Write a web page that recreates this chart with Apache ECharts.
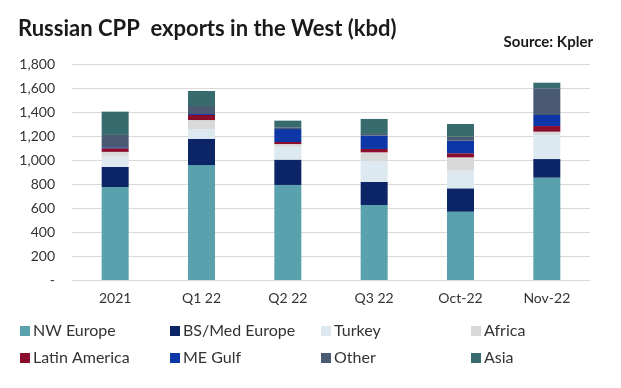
<!DOCTYPE html>
<html>
<head>
<meta charset="utf-8">
<script src="https://cdn.jsdelivr.net/npm/echarts@6/dist/echarts.min.js"></script>
<style>html,body{margin:0;padding:0;background:#fff;}#c{width:621px;height:388px;}</style>
</head>
<body>
<div id="c"></div>
<script>
const categories = ['2021', 'Q1 22', 'Q2 22', 'Q3 22', 'Oct-22', 'Nov-22'];
const nwEurope    = [775, 958, 792, 625, 569, 853];
const bsMedEurope = [167, 217, 211, 192, 195, 155];
const turkey      = [86, 83, 108, 177, 147, 200];
const africa      = [40, 75, 22, 70, 111, 28];
const latinAmerica= [30, 42, 17, 28, 34, 47];
const meGulf      = [8, 8, 108, 111, 105, 92];
const other       = [103, 67, 14, 14, 33, 222];
const asia        = [194, 125, 56, 125, 106, 47];
const yTicks = [0, 200, 400, 600, 800, 1000, 1200, 1400, 1600, 1800];

const seriesDefs = [
  ['NW Europe', nwEurope, '#5aa1ae'],
  ['BS/Med Europe', bsMedEurope, '#0b2566'],
  ['Turkey', turkey, '#dde9f1'],
  ['Africa', africa, '#d9d9d9'],
  ['Latin America', latinAmerica, '#8a0d2c'],
  ['ME Gulf', meGulf, '#0d37a6'],
  ['Other', other, '#4b5a73'],
  ['Asia', asia, '#386b6d']
];

const chart = echarts.init(document.getElementById('c'), null, {renderer: 'canvas'});
const font = 'Lato, "Open Sans", sans-serif';
const legendPos = [[20, 323], [170, 323], [321, 323], [471, 323], [20, 350], [170, 350], [321, 350], [471, 350]];
chart.setOption({
  animation: false,
  textStyle: {fontFamily: font},
  title: [
    {text: 'Russian CPP  exports in the West (kbd)', left: 13, top: 13,
     textStyle: {fontFamily: font, fontWeight: 'bold', fontSize: 22, color: '#1a1a1a'}},
    {text: 'Source: Kpler', right: 23, top: 30,
     textStyle: {fontFamily: font, fontWeight: 'bold', fontSize: 15, color: '#1a1a1a'}}
  ],
  legend: seriesDefs.map((s, i) => ({
    data: [s[0]], left: legendPos[i][0], top: legendPos[i][1], itemWidth: 10, itemHeight: 10,
    itemGap: 0, icon: 'rect', padding: 0,
    textStyle: {fontFamily: font, fontSize: 16, color: '#333', padding: [0, 0, 0, -2]}
  })),
  grid: {left: 72, right: 31, top: 64, bottom: 108},
  xAxis: {
    type: 'category', data: categories,
    axisLine: {lineStyle: {color: '#d9d9d9'}},
    axisTick: {show: false},
    axisLabel: {fontFamily: font, fontSize: 14, color: '#333', margin: 11}
  },
  yAxis: {
    type: 'value', min: yTicks[0], max: yTicks[yTicks.length - 1], interval: yTicks[1] - yTicks[0],
    axisLine: {show: false}, axisTick: {show: false},
    splitLine: {lineStyle: {color: '#d9d9d9'}},
    axisLabel: {fontFamily: font, fontSize: 14, color: '#333', margin: 17,
      formatter: v => v === 0 ? '-' : v.toLocaleString('en-US')}
  },
  series: seriesDefs.map(s => ({
    name: s[0], type: 'bar', stack: 'total', data: s[1], barWidth: 27,
    itemStyle: {color: s[2]}
  }))
});
</script>
</body>
</html>
